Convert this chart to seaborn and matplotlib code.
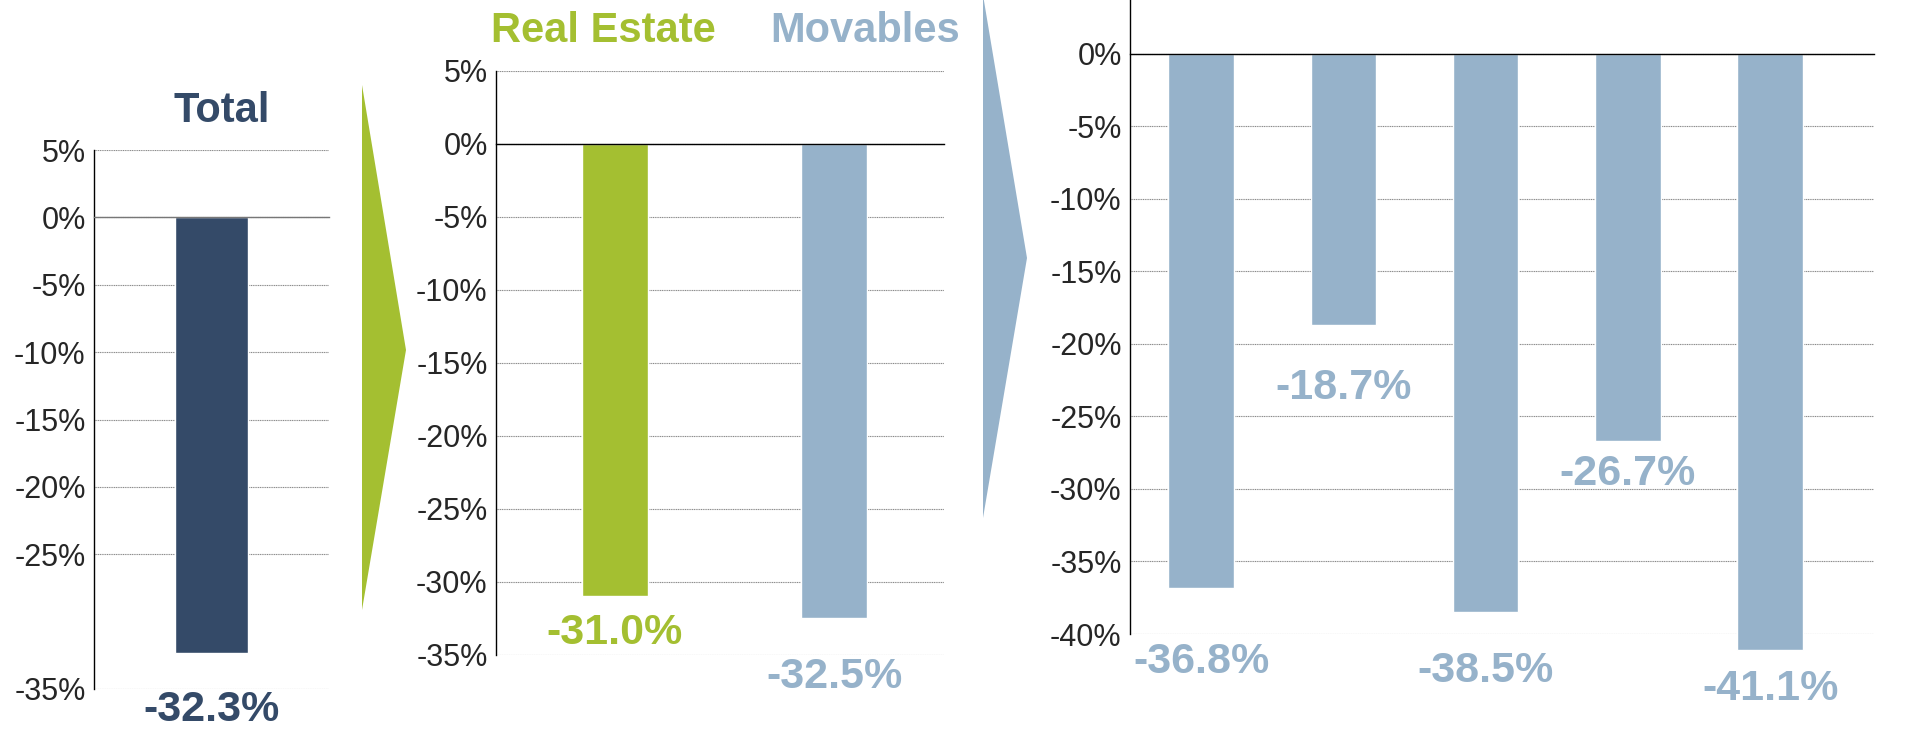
import matplotlib
matplotlib.use("Agg")
import matplotlib.pyplot as plt
from matplotlib.patches import Polygon
import pandas as pd
import seaborn as sns

# data
total_names = ['Total']
total_values = [-32.3]
split_names = ['Real Estate', 'Movables']
split_values = [-31.0, -32.5]
movable_names = ['Movables 1', 'Movables 2', 'Movables 3', 'Movables 4', 'Movables 5']
movable_values = [-36.8, -18.7, -38.5, -26.7, -41.1]

total_ticks = [5, 0, -5, -10, -15, -20, -25, -35]
split_ticks = [5, 0, -5, -10, -15, -20, -25, -30, -35]
movable_ticks = [0, -5, -10, -15, -20, -25, -30, -35, -40]

NAVY = '#344a68'
GREEN = '#a4bf31'
BLUE = '#96b2ca'

W, H = 1912, 730

sns.set_style('white')
plt.rcParams['font.family'] = ['Liberation Sans', 'DejaVu Sans']

fig = plt.figure(figsize=(W / 100, H / 100), dpi=100)


def box(left, right, top, bottom):
    """axes rectangle from pixel edges"""
    return [left / W, 1 - bottom / H, (right - left) / W, (bottom - top) / H]


def px(x, y):
    return (x / W, 1 - y / H)


def draw_panel(rect, names, values, colors, width, xlim, ylim, yticks,
               boundary_ticks, zero_color, offsets):
    ax = fig.add_axes(rect)
    df = pd.DataFrame({'name': names, 'value': values})
    sns.barplot(data=df, x='name', y='value', hue='name', palette=colors,
                width=width, legend=False, ax=ax, saturation=1)
    for p in ax.patches:
        p.set_clip_on(False)
    ax.set_yticks(yticks)
    ax.set_yticklabels([f'{t}%' for t in yticks], fontsize=22)
    ax.set_xlim(*xlim)
    ax.set_ylim(*ylim)
    ax.set_xlabel('')
    ax.set_ylabel('')
    ax.set_axisbelow(True)
    ax.yaxis.grid(True, color='#8a8a8a', lw=0.8, linestyle=(0, (1, 0.6)))
    for s in ['top', 'right']:
        ax.spines[s].set_visible(False)
    ax.spines['left'].set_color('black')
    ax.spines['left'].set_linewidth(1.0)
    ax.spines['bottom'].set_position(('data', 0))
    ax.spines['bottom'].set_color(zero_color)
    ax.spines['bottom'].set_linewidth(1.0)
    ax.set_xticks(boundary_ticks)
    ax.set_xticklabels([])
    ax.set_xlim(*xlim)
    ax.tick_params(axis='x', direction='out', length=6, color=zero_color, width=1)
    ax.tick_params(axis='y', direction='out', length=4, color='#9a9a9a', pad=2)
    for i, (v, c, off) in enumerate(zip(values, colors, offsets)):
        ax.annotate(f'{v:.1f}%', xy=(i, v), xytext=(0, -off),
                    textcoords='offset pixels', ha='center', va='center',
                    fontsize=31, fontweight='bold', color=c,
                    annotation_clip=False)
    return ax


draw_panel(box(94, 329, 150, 689), total_names, total_values, [NAVY], 0.31,
           (-0.5, 0.5), (-35, 5), total_ticks, [-0.5, 0.5], '#777777', [57])

draw_panel(box(496, 944, 70.7, 654.8), split_names, split_values, [GREEN, BLUE],
           0.30, (-0.54, 1.5), (-35, 5), split_ticks, [0.5, 1.5], 'black', [37, 59])

draw_panel(box(1130, 1874, 0, 634), movable_names, movable_values, [BLUE] * 5,
           0.46, (-0.5, 4.73), (-40, 3.7), movable_ticks, [0.5, 1.5, 2.5, 3.5],
           'black', [74, 63, 59, 33, 39])

# headers
fig.text(*px(222, 111), 'Total', ha='center', va='center', fontsize=30,
         fontweight='bold', color=NAVY)
fig.text(*px(603, 31), 'Real Estate', ha='center', va='center', fontsize=30,
         fontweight='bold', color=GREEN)
fig.text(*px(865, 31), 'Movables', ha='center', va='center', fontsize=30,
         fontweight='bold', color=BLUE)

# arrows between the panels
fig.add_artist(Polygon([px(362, 85), px(406, 350), px(362, 610)], closed=True,
                       facecolor=GREEN, edgecolor='none', transform=fig.transFigure))
fig.add_artist(Polygon([px(983, -5), px(1027, 258), px(983, 518)], closed=True,
                       facecolor=BLUE, edgecolor='none', transform=fig.transFigure))

fig.savefig('out.png', dpi=100)
